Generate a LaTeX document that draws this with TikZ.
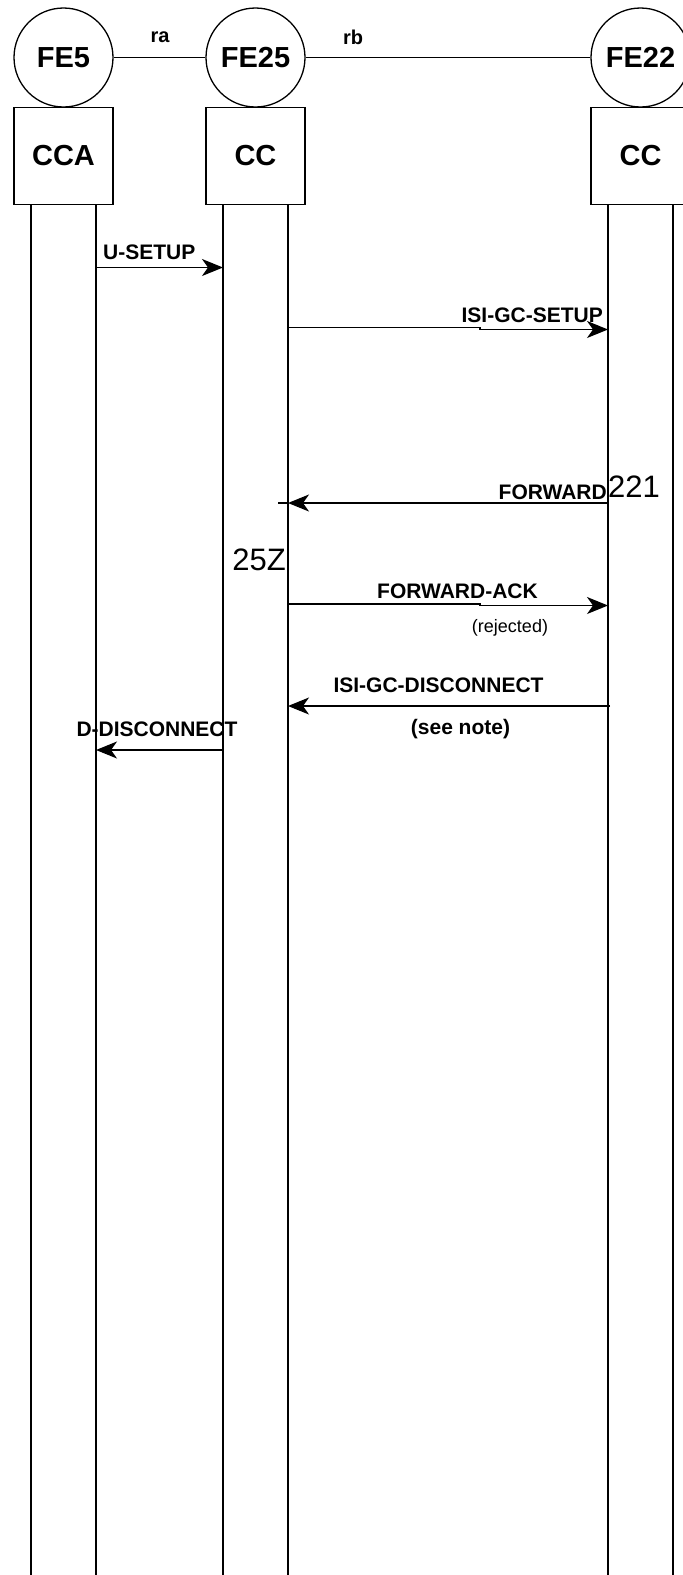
\documentclass[tikz,border=0pt]{standalone}
\usepackage{fontspec}
\setmainfont{Liberation Sans}
\usetikzlibrary{arrows.meta,positioning}
\tikzset{
 fe/.style={circle,draw,line width=1.3pt,minimum size=99pt,inner sep=0,font=\fontsize{29}{30}\selectfont\bfseries},
 febox/.style={rectangle,draw,line width=1.3pt,minimum width=99pt,minimum height=97pt,inner sep=0,font=\fontsize{29}{30}\selectfont\bfseries},
 lifeline/.style={line width=1.3pt},
 link/.style={line width=1.1pt},
 msg/.style={line width=1.2pt,-{Stealth[length=21pt,width=17pt,inset=6pt]}},
 msgline/.style={line width=1.2pt},
 msglabel/.style={inner sep=0,font=\fontsize{21}{24}\selectfont\bfseries},
 msgnote/.style={inner sep=0,font=\fontsize{18}{20}\selectfont},
 reflabel/.style={inner sep=0,font=\fontsize{20}{22}\selectfont\bfseries},
 tag/.style={inner sep=0,font=\fontsize{31}{32}\selectfont}
}

\begin{document}
\begin{tikzpicture}[x=1pt,y=-1pt]
\useasboundingbox (0,0) rectangle (683,1575);
\coordinate (bot) at (0,1575);
% functional entities
\node[fe] (fe5) at (63.5,57.5) {FE5};
\node[fe] (fe25) at (255.5,57.5) {FE25};
\node[fe] (fe22) at (640.5,57.5) {FE22};
\node[febox,below=-1pt of fe5] (cca) {CCA};
\node[febox,below=-1pt of fe25] (ccb) {CC};
\node[febox,below=-1pt of fe22] (ccc) {CC};
\draw[link] (fe5) -- (fe25);
\draw[link] (fe25) -- (fe22);
\node[reflabel] (ra) at (160,37) {ra};
\node[reflabel] (rb) at (353,37) {rb};
% lifelines
\foreach \b in {cca,ccb,ccc}{
 \coordinate (\b-l) at ([xshift=-32.5pt]\b.south);
 \coordinate (\b-r) at ([xshift=32.5pt]\b.south);
 \draw[lifeline] (\b-l) -- (\b-l |- bot);
 \draw[lifeline] (\b-r) -- (\b-r |- bot);
}
% U-SETUP
\coordinate (us1) at (cca-r |- 0,267.5);
\coordinate (us2) at (ccb-l |- 0,267.5);
\draw[msg] (us1) -- (us2);
\node[msglabel,anchor=west] (lus) at (103,252.5) {U-SETUP};
% ISI-GC-SETUP
\coordinate (is1) at (ccb-r |- 0,327.5);
\coordinate (isj) at (480,327.5);
\coordinate (is2) at (ccc-l |- 0,329.5);
\draw[msg] (is1) -- (isj) -- ++(0,2) -- (is2);
\node[msglabel,anchor=east] (lis) at (603,315) {ISI-GC-SETUP};
% FORWARD
\coordinate (fw1) at (ccc-l |- 0,503);
\coordinate (fw2) at (ccb-r |- 0,503);
\coordinate (fw0) at (278,503);
\draw[msgline] (fw2) -- (fw0);
\draw[msg] (fw1) -- (fw2);
\node[msglabel,anchor=east] (lfw) at (607,492) {FORWARD};
\node[tag,anchor=west] (t221) at (608,487) {221};
\node[tag,anchor=east] (t25z) at (286,560) {25Z};
% FORWARD-ACK
\coordinate (fa1) at (ccb-r |- 0,604);
\coordinate (faj) at (480,604);
\coordinate (fa2) at (ccc-l |- 0,605.5);
\draw[msg] (fa1) -- (faj) -- ++(0,1.5) -- (fa2);
\node[msglabel] (lfa) at (457.5,591) {FORWARD-ACK};
\node[msgnote] (lrej) at (510,628) {(rejected)};
% ISI-GC-DISCONNECT
\coordinate (id1) at ([xshift=2pt]ccc-l |- 0,706);
\coordinate (id2) at (ccb-r |- 0,706);
\draw[msg] (id1) -- (id2);
\node[msglabel] (lid) at (438.5,685) {ISI-GC-DISCONNECT};
\node[msglabel] (lnote) at (460.5,729) {(see note)};
% D-DISCONNECT
\coordinate (dd1) at (ccb-l |- 0,750);
\coordinate (dd2) at (cca-r |- 0,750);
\draw[msg] (dd1) -- (dd2);
\node[msglabel] (ldd) at (157,729) {D-DISCONNECT};
\end{tikzpicture}
\end{document}
